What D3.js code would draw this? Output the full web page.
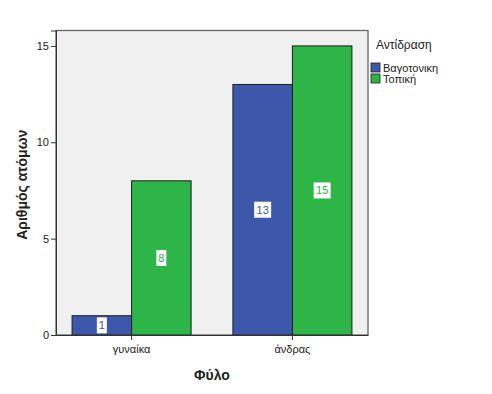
<!DOCTYPE html>
<html><head><meta charset="utf-8">
<script src="https://cdn.jsdelivr.net/npm/d3@7"></script>
<style>body{margin:0;background:#fff}svg{display:block}</style>
</head><body>
<svg id="c" width="492" height="394"></svg>
<script>
const categories = ["γυναίκα", "άνδρας"];
const seriesNames = ["Βαγοτονικη", "Τοπική"];
const vagotoniki = [1, 13];
const topiki = [8, 15];
const yTicks = [0, 5, 10, 15];
const colors = ["#3d58ab", "#2db547"];

const svg = d3.select("#c");
const L = 56, R = 368, T = 30.5, B = 335;
const font = "Arial, 'Liberation Sans', sans-serif";

const y = d3.scaleLinear().domain([0, 15.8]).range([B, T]);
const x0 = d3.scaleBand().domain(categories).range([L, R]).paddingInner(0.26).paddingOuter(0.1);
const x1 = d3.scaleBand().domain(seriesNames).range([0, x0.bandwidth()]);

svg.append("rect").attr("x", L).attr("y", T).attr("width", R - L).attr("height", B - T)
  .attr("fill", "#f0f0f0").attr("stroke", "#666").attr("stroke-width", 1.3);

const series = [vagotoniki, topiki];
const data = [];
categories.forEach((c, i) => seriesNames.forEach((s, j) => data.push({c, s, j, v: series[j][i]})));

svg.selectAll("rect.bar").data(data).enter().append("rect").attr("class", "bar")
  .attr("x", d => x0(d.c) + x1(d.s)).attr("y", d => y(d.v))
  .attr("width", x1.bandwidth()).attr("height", d => B - y(d.v))
  .attr("fill", d => colors[d.j]).attr("stroke", "#1e1e1e").attr("stroke-width", 1);

// value labels
const lab = svg.selectAll("g.lab").data(data).enter().append("g").attr("class", "lab")
  .attr("transform", d => `translate(${x0(d.c) + x1(d.s) + x1.bandwidth() / 2},${y(d.v / 2)})`);
lab.append("rect").attr("x", d => d.v >= 10 ? -8.5 : -5).attr("y", -8)
  .attr("width", d => d.v >= 10 ? 17 : 10).attr("height", 16).attr("fill", "#fff");
lab.append("text").attr("text-anchor", "middle").attr("dy", "0.36em")
  .attr("font-family", font).attr("font-size", 11)
  .attr("fill", d => colors[d.j]).text(d => d.v);

// y axis
const yAxis = d3.axisLeft(y).tickValues(yTicks).tickSize(5).tickPadding(2);
const gy = svg.append("g").attr("transform", `translate(${L},0)`).call(yAxis);
gy.select(".domain").attr("stroke", "#333");
gy.selectAll("line").attr("stroke", "#333");
gy.selectAll("text").attr("font-family", font).attr("font-size", 11).attr("fill", "#222");

// x axis
const xAxis = d3.axisBottom(x0).tickSize(5).tickPadding(5).tickSizeOuter(0);
const gx = svg.append("g").attr("transform", `translate(0,${B})`).call(xAxis);
gx.select(".domain").attr("stroke", "#333");
gx.selectAll("line").attr("stroke", "#333");
gx.selectAll("text").attr("font-family", font).attr("font-size", 11).attr("fill", "#222");

// axis titles
svg.append("text").attr("x", (L + R) / 2).attr("y", 380).attr("text-anchor", "middle")
  .attr("font-family", font).attr("font-size", 14).attr("font-weight", "bold").attr("fill", "#222").text("Φύλο");
svg.append("text").attr("transform", `translate(27,${(T + B) / 2 + 2}) rotate(-90)`).attr("text-anchor", "middle")
  .attr("font-family", font).attr("font-size", 14).attr("font-weight", "bold").attr("fill", "#222").text("Αριθμός ατόμων");

// legend
svg.append("text").attr("x", 376).attr("y", 49).attr("font-family", font).attr("font-size", 12)
  .attr("fill", "#222").text("Αντίδραση");
const lg = svg.selectAll("g.leg").data(seriesNames).enter().append("g").attr("class", "leg")
  .attr("transform", (d, i) => `translate(371,${63 + i * 11})`);
lg.append("rect").attr("width", 9).attr("height", 9).attr("fill", (d, i) => colors[i])
  .attr("stroke", "#1e1e1e").attr("stroke-width", 0.8);
lg.append("text").attr("x", 12).attr("y", 8.5).attr("font-family", font).attr("font-size", 11)
  .attr("fill", "#222").text(d => d);
</script>
</body></html>
